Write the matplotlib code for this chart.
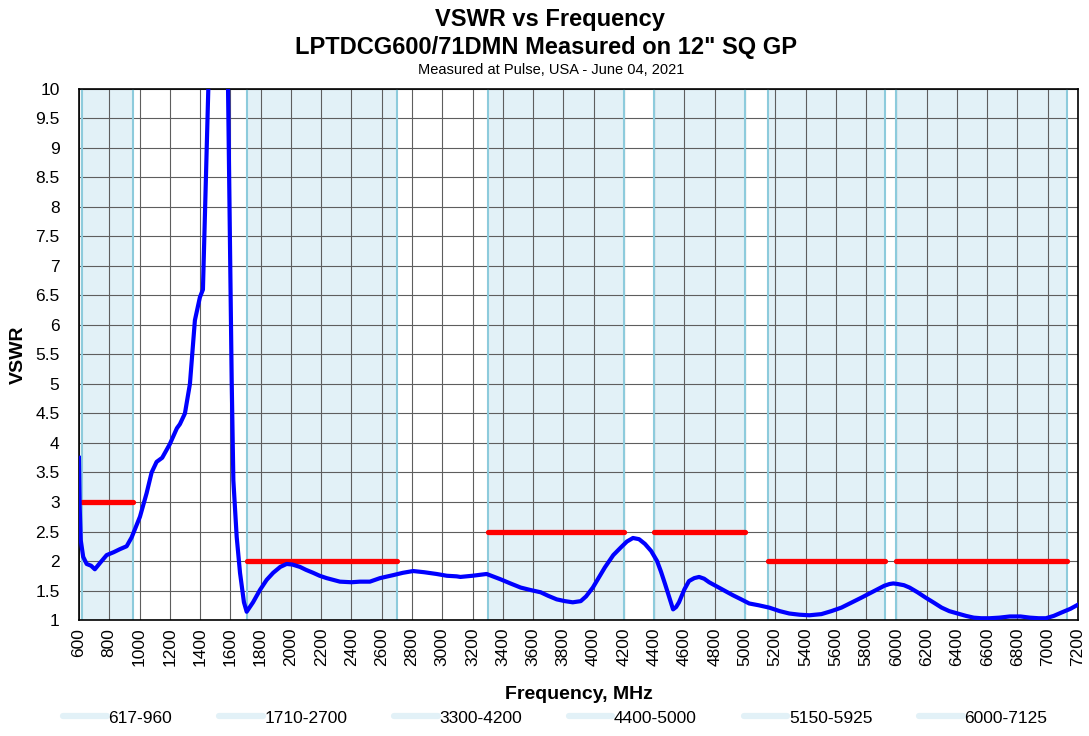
import matplotlib
matplotlib.use("Agg")
import matplotlib.pyplot as plt
from matplotlib.lines import Line2D
from matplotlib.ticker import MultipleLocator, FuncFormatter

plt.rcParams["font.family"] = ["Liberation Sans", "DejaVu Sans"]

# measured VSWR trace
freq = [600, 605, 612, 628, 651, 680, 705, 740, 783, 830, 870, 915, 948, 1003, 1047,
        1080, 1113, 1150, 1200, 1247, 1267, 1300, 1333, 1366, 1399, 1419, 1444, 1465,
        1580, 1598, 1609, 1620, 1642, 1664, 1690, 1708, 1750, 1796, 1840, 1883, 1930,
        1972, 2010, 2060, 2100, 2147, 2190, 2236, 2280, 2324, 2400, 2456, 2522, 2589,
        2675, 2740, 2808, 2880, 2963, 3030, 3095, 3120, 3200, 3293, 3385, 3450, 3518,
        3580, 3650, 3700, 3756, 3810, 3862, 3915, 3950, 3995, 4030, 4074, 4130, 4180,
        4220, 4260, 4300, 4339, 4380, 4419, 4445, 4472, 4500, 4525, 4545, 4564, 4600,
        4630, 4665, 4697, 4730, 4763, 4820, 4869, 4920, 4975, 5028, 5090, 5160, 5230,
        5293, 5360, 5425, 5505, 5570, 5637, 5700, 5770, 5830, 5875, 5920, 5955, 5980,
        6008, 6050, 6087, 6140, 6193, 6250, 6299, 6350, 6405, 6460, 6511, 6560, 6617,
        6680, 6750, 6820, 6882, 6940, 6988, 7040, 7094, 7150, 7200]
vswr = [3.75, 2.9, 2.35, 2.07, 1.95, 1.92, 1.86, 1.97, 2.1, 2.15, 2.2, 2.25, 2.4, 2.75, 3.15,
        3.5, 3.68, 3.75, 3.98, 4.25, 4.32, 4.5, 5.0, 6.08, 6.47, 6.6, 9.0, 11.0,
        11.0, 7.33, 5.07, 3.37, 2.41, 1.8, 1.3, 1.14, 1.3, 1.51, 1.68, 1.8, 1.9,
        1.95, 1.94, 1.9, 1.85, 1.8, 1.75, 1.71, 1.68, 1.65, 1.64, 1.65, 1.65, 1.71,
        1.76, 1.8, 1.83, 1.81, 1.78, 1.75, 1.74, 1.73, 1.75, 1.78, 1.69, 1.62, 1.55,
        1.51, 1.47, 1.41, 1.35, 1.32, 1.30, 1.32, 1.4, 1.55, 1.7, 1.89, 2.1, 2.23,
        2.33, 2.39, 2.37, 2.29, 2.17, 2.0, 1.82, 1.61, 1.38, 1.18, 1.22, 1.3, 1.52,
        1.66, 1.71, 1.73, 1.70, 1.64, 1.56, 1.49, 1.42, 1.35, 1.28, 1.25, 1.21, 1.15,
        1.11, 1.09, 1.08, 1.10, 1.15, 1.21, 1.29, 1.38, 1.46, 1.52, 1.58, 1.61, 1.62,
        1.61, 1.59, 1.55, 1.47, 1.38, 1.29, 1.21, 1.15, 1.11, 1.07, 1.04, 1.03, 1.03,
        1.04, 1.06, 1.06, 1.04, 1.03, 1.03, 1.07, 1.13, 1.19, 1.26]

# operating bands and their VSWR limits
band_labels = ["617-960", "1710-2700", "3300-4200", "4400-5000", "5150-5925", "6000-7125"]
band_lo = [617, 1710, 3300, 4400, 5150, 6000]
band_hi = [960, 2700, 4200, 5000, 5925, 7125]
band_limit = [3.0, 2.0, 2.5, 2.5, 2.0, 2.0]

BAND_FILL = "#E2F1F7"
BAND_EDGE = "#8DCBDC"

fig = plt.figure(figsize=(10.89, 7.36), dpi=100)
ax = fig.add_axes([0.0725, 0.1576, 0.9174, 0.7215])

for lo, hi in zip(band_lo, band_hi):
    ax.axvspan(lo, hi, color=BAND_FILL, lw=0, zorder=1)
    ax.axvline(lo, color=BAND_EDGE, lw=1.5, zorder=2)
    ax.axvline(hi, color=BAND_EDGE, lw=1.5, zorder=2)

for lo, hi, lim in zip(band_lo, band_hi, band_limit):
    ax.plot([lo, hi], [lim, lim], color="#FF0000", lw=3.8, solid_capstyle="round", zorder=3)

ax.plot(freq, vswr, color="#0000FF", lw=3.0, zorder=4)

ax.set_xlim(600, 7200)
ax.set_ylim(1, 10)
ax.xaxis.set_major_locator(MultipleLocator(200))
ax.yaxis.set_major_locator(MultipleLocator(0.5))
ax.yaxis.set_major_formatter(FuncFormatter(lambda v, p: f"{v:g}"))
ax.grid(True, color="#5e5e5e", lw=0.8)
ax.tick_params(axis="x", labelrotation=90, labelsize=12.5, length=0, pad=5.5)
ax.tick_params(axis="y", labelsize=12.5, length=0, pad=14)
for s in ax.spines.values():
    s.set_color("black")
    s.set_linewidth(1.2)

ax.set_xlabel("Frequency, MHz", fontsize=14, fontweight="bold", labelpad=14)
ax.set_ylabel("VSWR", fontsize=14, fontweight="bold", labelpad=6)

fig.text(0.505, 0.973, "VSWR vs Frequency", ha="center", va="center", fontsize=17, fontweight="bold")
fig.text(0.501, 0.936, 'LPTDCG600/71DMN Measured on 12" SQ GP', ha="center", va="center",
         fontsize=17, fontweight="bold")
fig.text(0.506, 0.905, "Measured at Pulse, USA - June 04, 2021", ha="center", va="center", fontsize=10.5)

handles = [Line2D([0], [0], color=BAND_FILL, lw=4.5, solid_capstyle="round") for _ in band_labels]
fig.legend(handles, band_labels, loc="center", bbox_to_anchor=(0.51, 0.0245), ncol=6,
           frameon=False, fontsize=12.5, handlelength=2.5, handletextpad=0.1, columnspacing=2.7)

fig.savefig("out.png", dpi=100)
